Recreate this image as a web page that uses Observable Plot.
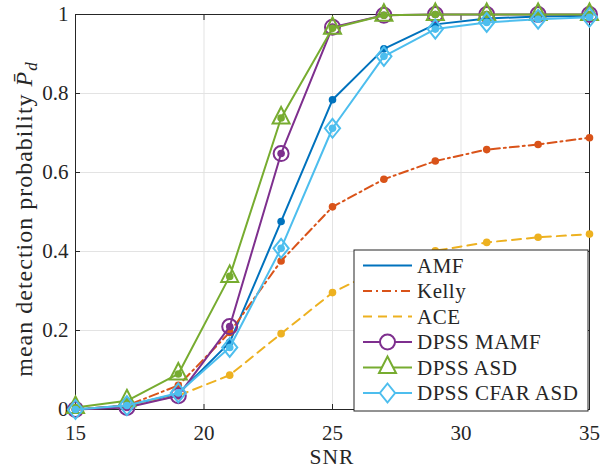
<!DOCTYPE html>
<html><head><meta charset="utf-8">
<script src="https://cdn.jsdelivr.net/npm/d3@7"></script>
<script src="https://cdn.jsdelivr.net/npm/@observablehq/plot@0.6"></script>
<style>body{margin:0;background:#fff} svg, svg text{font-family:"Liberation Serif","Times New Roman","DejaVu Serif",serif !important}</style>
</head><body><div id="chart"></div>
<script>
const snr   = [15,17,19,21,23,25,27,29,31,33,35];
const amf   = [0,0.01,0.04,0.17,0.476,0.784,0.913,0.975,0.99,0.995,0.997];
const kelly = [0,0.01,0.061,0.195,0.376,0.513,0.583,0.629,0.658,0.671,0.688];
const ace   = [0,0.008,0.035,0.087,0.192,0.296,0.36,0.402,0.423,0.436,0.444];
const mamf  = [0,0.005,0.035,0.21,0.648,0.968,0.998,1,1,1,1];
const asd   = [0.005,0.022,0.09,0.337,0.738,0.965,0.998,1,1,1,1];
const cfar  = [0,0.01,0.042,0.157,0.408,0.712,0.894,0.963,0.98,0.988,0.993];

const seriesNames  = ["AMF","Kelly","ACE","DPSS MAMF","DPSS ASD","DPSS CFAR ASD"];
const seriesColors = ["#0072BD","#D95319","#EDB120","#7E2F8E","#77AC30","#4DBEEE"];
const seriesDash   = [null,"9,4,2,4","9,6",null,null,null];
const seriesMarker = [null,null,null,"circle","triangle","diamond"];
const xTicks = [15,20,25,30,35];
const yTicks = [0,0.2,0.4,0.6,0.8,1];
const xLabel = "SNR";

const values = [amf,kelly,ace,mamf,asd,cfar];

const triangle = {draw(ctx,size){const r=Math.sqrt(size/Math.PI);ctx.moveTo(0,-1.1*r);ctx.lineTo(0.85*r,0.55*r);ctx.lineTo(-0.85*r,0.55*r);ctx.closePath();}};
const diamond = {draw(ctx,size){const r=Math.sqrt(size/Math.PI);ctx.moveTo(0,-r);ctx.lineTo(0.8*r,0);ctx.lineTo(0,r);ctx.lineTo(-0.8*r,0);ctx.closePath();}};
const symbolMap = {circle:{sym:d3.symbolCircle, r:7.5}, triangle:{sym:triangle, r:10}, diamond:{sym:diamond, r:9.5}};

const seriesMarks = seriesNames.flatMap((name,i)=>{
  const data = snr.map((x,j)=>({snr:x, pd:values[i][j]}));
  const m = [
    Plot.line(data,{x:"snr",y:"pd",stroke:seriesColors[i],strokeWidth:2,strokeDasharray:seriesDash[i]}),
    Plot.dot(data,{x:"snr",y:"pd",fill:seriesColors[i],r:3.8})
  ];
  if (seriesMarker[i]) {
    const s = symbolMap[seriesMarker[i]];
    m.push(Plot.dot(data,{x:"snr",y:"pd",symbol:()=>s.sym,stroke:seriesColors[i],fill:"none",strokeWidth:2,r:s.r}));
  }
  return m;
});

const W=600,H=469, ML=75, MR=11, MT=14, MB=60;
const FONT = "'Liberation Serif','Times New Roman','DejaVu Serif',serif";
const chart = Plot.plot({
  width:W, height:H, marginLeft:ML, marginRight:MR, marginTop:MT, marginBottom:MB,
  style:{fontFamily:FONT, fontSize:"21px", color:"#262626", background:"#fff", overflow:"visible"},
  x:{domain:[15,35]},
  y:{domain:[0,1]},
  symbol:{type:"identity"},
  marks:[
    Plot.gridX(xTicks,{stroke:"#e3e3e3",strokeOpacity:1}),
    Plot.gridY(yTicks,{stroke:"#e3e3e3",strokeOpacity:1}),
    Plot.frame({stroke:"#262626"}),
    Plot.axisX(xTicks,{tickSize:-5,tickPadding:21,label:null,fontSize:21,stroke:"#262626"}),
    Plot.axisX(xTicks,{anchor:"top",tickSize:-5,tickFormat:()=>"",label:null,stroke:"#262626"}),
    Plot.axisY(yTicks,{tickSize:-5,tickPadding:12,label:null,fontSize:21,stroke:"#262626",tickFormat:d=>d===0?"0":d===1?"1":d.toFixed(1)}),
    Plot.axisY(yTicks,{anchor:"right",tickSize:-5,tickFormat:()=>"",label:null,stroke:"#262626"}),
    ...seriesMarks
  ]
});
document.getElementById("chart").appendChild(chart);

const svg = d3.select(chart);
// axis titles
svg.append("text").attr("x",(ML+W-MR)/2).attr("y",464.3).attr("text-anchor","middle")
  .attr("font-size",21.5).attr("letter-spacing","1px").attr("fill","#262626").text(xLabel);
const yl = svg.append("text").attr("transform","translate(32,219) rotate(-90)").attr("text-anchor","middle")
  .attr("font-size",24).attr("letter-spacing","1px").attr("fill","#262626");
yl.append("tspan").text("mean detection probability ");
yl.append("tspan").attr("font-style","italic").text("P\u0304");
yl.append("tspan").attr("font-style","italic").attr("font-size",17).attr("dy",5).text("d");

// legend
const lg = svg.append("g").attr("text-anchor","start");
const lx=354, ly=250, lw=234, lh=161;
lg.append("rect").attr("x",lx).attr("y",ly).attr("width",lw).attr("height",lh).attr("fill","#fff").attr("stroke","#262626").attr("stroke-width",1);
seriesNames.forEach((name,i)=>{
  const yy = ly + 15.5 + i*25.5;
  lg.append("line").attr("x1",lx+9).attr("x2",lx+58).attr("y1",yy).attr("y2",yy)
    .attr("stroke",seriesColors[i]).attr("stroke-width",2).attr("stroke-dasharray",seriesDash[i]);
  if (seriesMarker[i]) {
    const s = symbolMap[seriesMarker[i]];
    lg.append("path").attr("d",d3.symbol(s.sym, Math.PI*s.r*s.r)()).attr("transform",`translate(${lx+33.5},${yy})`)
      .attr("fill","#fff").attr("stroke",seriesColors[i]).attr("stroke-width",2);
  }
  lg.append("text").attr("x",lx+63).attr("y",yy).attr("dy","0.34em").attr("text-anchor","start")
    .attr("font-size",21).attr("letter-spacing","0.5px").attr("fill","#262626").text(name);
});
</script></body></html>
